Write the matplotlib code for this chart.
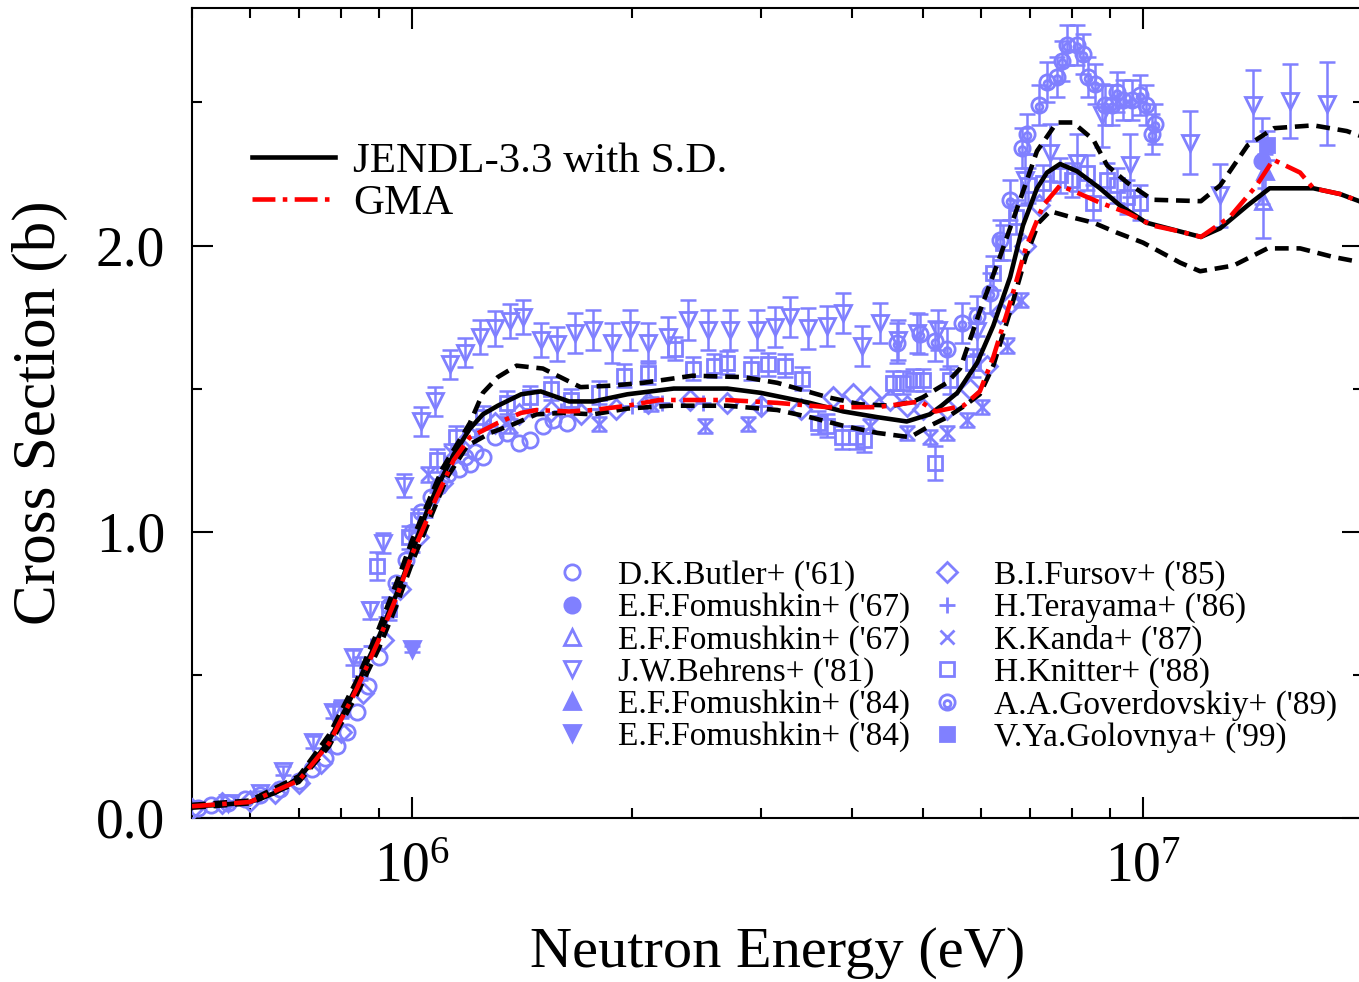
import numpy as np
import matplotlib
matplotlib.use('Agg')
import matplotlib.pyplot as plt
from matplotlib.ticker import MultipleLocator, FormatStrFormatter
from matplotlib.path import Path

plt.rcParams['font.family'] = ['Liberation Serif', 'DejaVu Serif']
plt.rcParams['mathtext.fontset'] = 'custom'
plt.rcParams['mathtext.rm'] = 'Liberation Serif'
plt.rcParams['mathtext.it'] = 'Liberation Serif:italic'

# evaluated curves (energy in MeV, cross section in b)
jendl_e = [0.50, 0.55, 0.60, 0.65, 0.70, 0.74, 0.77, 0.80, 0.84, 0.87, 0.90, 0.93, 0.955, 0.975,
           1.00, 1.04, 1.08, 1.14, 1.20, 1.25, 1.31, 1.41, 1.50, 1.64, 1.77, 1.97, 2.28, 2.70,
           3.00, 3.50, 3.89, 4.33, 4.75, 5.11, 5.30, 5.57, 5.93, 6.24, 6.58, 6.85, 7.16, 7.39,
           7.70, 8.12, 8.73, 9.30, 10.1, 11.2, 12.0, 12.75, 13.9, 14.9, 17.1, 18.6, 20.0]
jendl_s = [0.040, 0.045, 0.055, 0.087, 0.14, 0.21, 0.27, 0.35, 0.46, 0.55, 0.63, 0.72, 0.79, 0.85,
           0.93, 1.05, 1.15, 1.27, 1.36, 1.41, 1.44, 1.48, 1.49, 1.455, 1.455, 1.48, 1.50, 1.50,
           1.485, 1.45, 1.42, 1.40, 1.385, 1.41, 1.44, 1.485, 1.59, 1.72, 1.89, 2.07, 2.20, 2.255,
           2.285, 2.26, 2.20, 2.14, 2.08, 2.05, 2.03, 2.06, 2.14, 2.20, 2.20, 2.18, 2.15]

upper_e = [0.50, 0.60, 0.70, 0.77, 0.84, 0.90, 0.955, 1.00, 1.10, 1.20, 1.25, 1.31, 1.39, 1.51,
           1.61, 1.70, 1.87, 2.07, 2.42, 2.84, 3.16, 3.70, 4.10, 4.55, 4.85, 5.00, 5.39, 5.62,
           5.98, 6.37, 6.79, 7.16, 7.62, 8.02, 8.55, 8.93, 9.51, 10.3, 12.0, 12.75, 13.9, 15.1,
           17.1, 19.0, 20.0]
upper_s = [0.045, 0.06, 0.145, 0.29, 0.48, 0.66, 0.83, 0.97, 1.22, 1.38, 1.485, 1.54, 1.58, 1.57,
           1.535, 1.505, 1.51, 1.52, 1.545, 1.54, 1.52, 1.47, 1.445, 1.44, 1.455, 1.47, 1.52, 1.57,
           1.77, 1.96, 2.16, 2.33, 2.43, 2.43, 2.37, 2.28, 2.22, 2.16, 2.155, 2.21, 2.35, 2.41,
           2.42, 2.40, 2.38]

lower_e = [0.50, 0.60, 0.70, 0.77, 0.84, 0.90, 0.955, 1.003, 1.06, 1.117, 1.19, 1.28, 1.375, 1.48,
           1.61, 1.77, 1.97, 2.25, 2.70, 3.16, 3.50, 3.89, 4.33, 4.80, 5.11, 5.40, 5.70, 5.98,
           6.24, 6.58, 6.91, 7.20, 7.46, 7.95, 8.55, 9.21, 10.0, 11.24, 11.97, 13.3, 14.8, 16.4,
           18.2, 20.0]
lower_s = [0.035, 0.05, 0.125, 0.25, 0.43, 0.59, 0.75, 0.90, 1.05, 1.19, 1.30, 1.345, 1.375, 1.41,
           1.415, 1.41, 1.43, 1.44, 1.44, 1.425, 1.40, 1.37, 1.345, 1.33, 1.37, 1.40, 1.44, 1.48,
           1.58, 1.77, 1.96, 2.08, 2.12, 2.10, 2.08, 2.045, 2.01, 1.94, 1.91, 1.93, 1.99, 1.99,
           1.96, 1.94]

gma_e = [0.50, 0.60, 0.70, 0.77, 0.84, 0.90, 0.955, 1.00, 1.08, 1.14, 1.20, 1.31, 1.41, 1.48,
         1.64, 1.77, 1.97, 2.18, 2.70, 3.16, 3.70, 4.33, 4.96, 5.20, 5.68, 5.98, 6.24, 6.58,
         6.91, 7.30, 7.70, 8.12, 8.73, 9.50, 10.3, 11.2, 12.0, 13.15, 14.3, 15.07, 16.4, 17.1,
         18.6, 20.0]
gma_s = [0.04, 0.055, 0.13, 0.26, 0.45, 0.62, 0.78, 0.92, 1.12, 1.25, 1.33, 1.38, 1.415, 1.425,
         1.42, 1.425, 1.44, 1.46, 1.46, 1.45, 1.435, 1.435, 1.455, 1.42, 1.44, 1.49, 1.61, 1.80,
         1.99, 2.14, 2.21, 2.185, 2.15, 2.115, 2.07, 2.05, 2.03, 2.10, 2.21, 2.30, 2.255, 2.20,
         2.18, 2.15]

# experimental data (MeV, b, error b)
butler_e = [0.51, 0.53, 0.56, 0.59, 0.62, 0.66, 0.70, 0.73, 0.76, 0.79, 0.815, 0.84, 0.87, 0.90,
            0.93, 0.95, 0.98, 1.00, 1.03, 1.06, 1.09, 1.12, 1.16, 1.18, 1.20, 1.22, 1.25, 1.30,
            1.35, 1.40, 1.45, 1.51, 1.56, 1.63]
butler_s = [0.035, 0.045, 0.05, 0.065, 0.08, 0.10, 0.13, 0.17, 0.21, 0.25, 0.30, 0.37, 0.46, 0.56,
            0.74, 0.82, 0.90, 1.00, 1.07, 1.12, 1.16, 1.20, 1.22, 1.26, 1.235, 1.28, 1.26, 1.33,
            1.345, 1.31, 1.32, 1.37, 1.39, 1.38]

fom67a_e = [14.55]
fom67a_s = [2.295]
fom67a_d = [0.15]

fom67b_e = [14.6]
fom67b_s = [2.155]
fom67b_d = [0.13]

behrens_e = [0.56, 0.62, 0.666, 0.732, 0.78, 0.83, 0.876, 0.913, 0.975, 1.03, 1.075, 1.127, 1.18,
             1.24, 1.30, 1.36, 1.42, 1.50, 1.58, 1.672, 1.769, 1.878, 1.987, 2.103, 2.241, 2.386,
             2.541, 2.723, 2.964, 3.138, 3.289, 3.482, 3.698, 3.887, 4.126, 4.366, 4.62, 4.91,
             5.24, 5.93, 6.9, 7.46, 8.12, 8.80, 9.60, 11.59, 12.75, 14.13, 15.89, 17.86]
behrens_s = [0.05, 0.085, 0.165, 0.265, 0.37, 0.56, 0.725, 0.96, 1.16, 1.385, 1.455, 1.585, 1.625,
             1.68, 1.71, 1.735, 1.75, 1.67, 1.655, 1.695, 1.705, 1.66, 1.705, 1.66, 1.68, 1.74,
             1.705, 1.705, 1.705, 1.715, 1.75, 1.71, 1.72, 1.765, 1.65, 1.73, 1.67, 1.695,
             1.705, 1.70, 2.23, 2.325, 2.29, 2.455, 2.28, 2.36, 2.175, 2.49, 2.505, 2.495]
behrens_d = [0.01, 0.01, 0.015, 0.02, 0.02, 0.025, 0.03, 0.035, 0.04, 0.05, 0.05, 0.05, 0.05,
             0.06, 0.06, 0.06, 0.06, 0.06, 0.06, 0.07, 0.07, 0.07, 0.07, 0.07, 0.07, 0.07,
             0.07, 0.07, 0.07, 0.07, 0.07, 0.07, 0.07, 0.07, 0.07, 0.07, 0.07, 0.07,
             0.07, 0.08, 0.09, 0.10, 0.10, 0.11, 0.11, 0.11, 0.11, 0.125, 0.13, 0.145]

fom84a_e = [14.7]
fom84a_s = [2.26]
fom84a_d = [0.06]

fom84b_e = [1.0]
fom84b_s = [0.59]
fom84b_d = [0.01]

fursov_e = [0.50, 0.55, 0.60, 0.65, 0.70, 0.75, 0.80, 0.857, 0.913, 0.963, 1.02, 1.10, 1.20, 1.30,
            1.40, 1.55, 1.70, 1.90, 2.10, 2.40, 2.70, 3.00, 3.40, 3.77, 4.01, 4.23, 4.50, 4.75,
            5.00, 5.40, 5.80, 6.12, 6.37, 6.60, 6.90, 7.20]
fursov_s = [0.03, 0.05, 0.06, 0.085, 0.12, 0.19, 0.30, 0.435, 0.62, 0.80, 0.98, 1.17, 1.33, 1.38,
            1.41, 1.42, 1.41, 1.43, 1.45, 1.46, 1.45, 1.44, 1.43, 1.47, 1.48, 1.47, 1.46, 1.44,
            1.43, 1.43, 1.50, 1.58, 1.765, 1.80, 2.00, 2.14]

terayama_e = [0.88, 0.92, 0.96, 1.00, 1.04, 1.08, 1.12, 1.16, 1.22, 1.28, 1.35, 1.45, 1.60,
              1.80, 2.00, 2.20, 2.50, 3.00]
terayama_s = [0.60, 0.70, 0.82, 0.93, 1.05, 1.14, 1.21, 1.27, 1.33, 1.37, 1.40, 1.43, 1.42,
              1.43, 1.44, 1.45, 1.45, 1.44]

kanda_e = [1.05, 1.13, 1.36, 1.80, 2.12, 2.52, 2.88, 4.23, 4.75, 5.11, 5.39, 5.74, 6.03, 6.52,
           6.80]
kanda_s = [1.20, 1.28, 1.37, 1.375, 1.445, 1.37, 1.375, 1.37, 1.345, 1.33, 1.345, 1.39, 1.435,
           1.65, 1.81]
kanda_d = [0.025] * 15

knitter_e = [0.80, 0.85, 0.896, 0.93, 0.99, 1.02, 1.08, 1.15, 1.25, 1.35, 1.45, 1.55, 1.65, 1.80,
             1.95, 2.10, 2.29, 2.42, 2.59, 2.70, 2.91, 3.07, 3.24, 3.42, 3.59, 3.70, 3.87, 4.05,
             4.15, 4.55, 4.70, 4.85, 5.00, 5.20, 5.45, 5.86, 6.24, 6.43, 6.70, 6.95, 7.30, 7.70,
             8.00, 8.38, 8.55, 8.93, 9.20, 9.51, 9.90]
knitter_s = [0.38, 0.52, 0.88, 0.73, 0.98, 1.04, 1.25, 1.33, 1.40, 1.45, 1.47, 1.50, 1.46, 1.485,
             1.545, 1.555, 1.64, 1.57, 1.58, 1.59, 1.57, 1.585, 1.58, 1.535, 1.38, 1.37, 1.33,
             1.33, 1.32, 1.52, 1.52, 1.53, 1.53, 1.24, 1.53, 1.59, 1.905, 2.01, 2.10, 2.21, 2.22,
             2.245, 2.23, 2.255, 2.15, 2.23, 2.21, 2.17, 2.15]
knitter_d = [0.03, 0.04, 0.05, 0.04, 0.04, 0.04, 0.04, 0.04, 0.04, 0.04, 0.04, 0.04, 0.04, 0.04,
             0.04, 0.04, 0.04, 0.04, 0.04, 0.04, 0.04, 0.04, 0.04, 0.04, 0.04, 0.04, 0.04,
             0.04, 0.04, 0.04, 0.04, 0.04, 0.04, 0.06, 0.05, 0.05, 0.06, 0.06, 0.06, 0.06, 0.06,
             0.06, 0.06, 0.06, 0.06, 0.06, 0.06, 0.06, 0.06]

gover_e = [4.60, 4.96, 5.20, 5.40, 5.65, 5.93, 6.17, 6.37, 6.58, 6.82, 6.94, 7.20, 7.39, 7.62,
           7.74, 7.88, 8.12, 8.28, 8.41, 8.60, 8.88, 9.08, 9.20, 9.38, 9.66, 9.90, 10.1, 10.3,
           10.4]
gover_s = [1.66, 1.69, 1.665, 1.64, 1.73, 1.755, 1.835, 2.02, 2.16, 2.34, 2.39, 2.49, 2.57, 2.59,
           2.645, 2.70, 2.70, 2.67, 2.59, 2.565, 2.49, 2.49, 2.535, 2.51, 2.51, 2.525, 2.49, 2.39,
           2.425]
gover_d = [0.07] * 29

golovnya_e = [14.8]
golovnya_s = [2.35]
golovnya_d = [0.05]

mev = 1e6
c = '#8080ff'

fig = plt.figure(figsize=(13.59, 9.82), dpi=100)
ax = fig.add_axes([0.1413, 0.1673, 0.8617, 0.8245])

ring = Path.make_compound_path(Path.circle((0, 0), 1.0), Path.circle((0, -0.2), 0.45))

# label, x, y, err, marker, filled, size
sets = [
    ("D.K.Butler+ ('61)", butler_e, butler_s, None, 'o', False, 11),
    ("E.F.Fomushkin+ ('67)", fom67a_e, fom67a_s, fom67a_d, 'o', True, 11),
    ("E.F.Fomushkin+ ('67)", fom67b_e, fom67b_s, fom67b_d, '^', False, 11),
    ("J.W.Behrens+ ('81)", behrens_e, behrens_s, behrens_d, 'v', False, 11),
    ("E.F.Fomushkin+ ('84)", fom84a_e, fom84a_s, fom84a_d, '^', True, 11),
    ("E.F.Fomushkin+ ('84)", fom84b_e, fom84b_s, fom84b_d, 'v', True, 11),
    ("B.I.Fursov+ ('85)", fursov_e, fursov_s, None, 'D', False, 10),
    ("H.Terayama+ ('86)", terayama_e, terayama_s, None, '+', False, 12),
    ("K.Kanda+ ('87)", kanda_e, kanda_s, kanda_d, 'x', False, 10),
    ("H.Knitter+ ('88)", knitter_e, knitter_s, knitter_d, 's', False, 10),
    ("A.A.Goverdovskiy+ ('89)", gover_e, gover_s, gover_d, ring, False, 11),
    ("V.Ya.Golovnya+ ('99)", golovnya_e, golovnya_s, golovnya_d, 's', True, 10),
]

data_handles = []
for label, xe, ys, err, mk, filled, ms in sets:
    xe = np.array(xe) * mev
    if err is not None:
        ax.errorbar(xe, ys, yerr=err, fmt='none', ecolor=c, elinewidth=1.8,
                    capsize=6, capthick=1.8, zorder=2)
    h, = ax.plot(xe, ys, linestyle='none', marker=mk, ms=ms, mew=2.0, mec=c,
                 mfc=c if filled else 'none', zorder=3, label=label)
    data_handles.append(h)

ax.plot(np.array(upper_e) * mev, upper_s, color='k', lw=3.3, dashes=(3, 1.7), zorder=5)
ax.plot(np.array(lower_e) * mev, lower_s, color='k', lw=3.3, dashes=(3, 1.7), zorder=5)
h_j, = ax.plot(np.array(jendl_e) * mev, jendl_s, color='k', lw=3.3, zorder=6)
h_g, = ax.plot(np.array(gma_e) * mev, gma_s, color='#ff0000', lw=3.3,
               dashes=(5, 1.6, 1, 1.6), zorder=7)

ax.set_xscale('log')
ax.set_xlim(5e5, 2e7)
ax.set_ylim(0, 2.83)
ax.yaxis.set_major_locator(MultipleLocator(1.0))
ax.yaxis.set_minor_locator(MultipleLocator(0.5))
ax.yaxis.set_major_formatter(FormatStrFormatter('%.1f'))
ax.tick_params(which='both', direction='in', top=True, right=True, width=1.5, labelsize=40)
ax.tick_params(which='major', length=15)
ax.tick_params(axis='x', which='major', pad=17)
ax.tick_params(axis='y', which='major', pad=19.5)
ax.tick_params(which='minor', length=7.5)
for s in ax.spines.values():
    s.set_linewidth(1.5)

ax.set_xlabel('Neutron Energy (eV)', fontsize=42, labelpad=24)
ax.set_ylabel('Cross Section (b)', fontsize=44, labelpad=20)

leg1 = ax.legend([h_j, h_g], ['JENDL-3.3 with S.D.', 'GMA'], loc='upper left',
                 bbox_to_anchor=(0.0512, 0.835), frameon=False, fontsize=31,
                 handlelength=1.93, handletextpad=0.42, labelspacing=0.08,
                 borderpad=0, borderaxespad=0)
ax.add_artist(leg1)
ax.legend(handles=data_handles, loc='upper left', bbox_to_anchor=(0.31, 0.3176),
          ncol=2, frameon=False, fontsize=24, handlelength=1.0, handletextpad=0.9,
          labelspacing=0.04, columnspacing=0.6, borderpad=0, borderaxespad=0)

fig.savefig('out.png', dpi=100)
